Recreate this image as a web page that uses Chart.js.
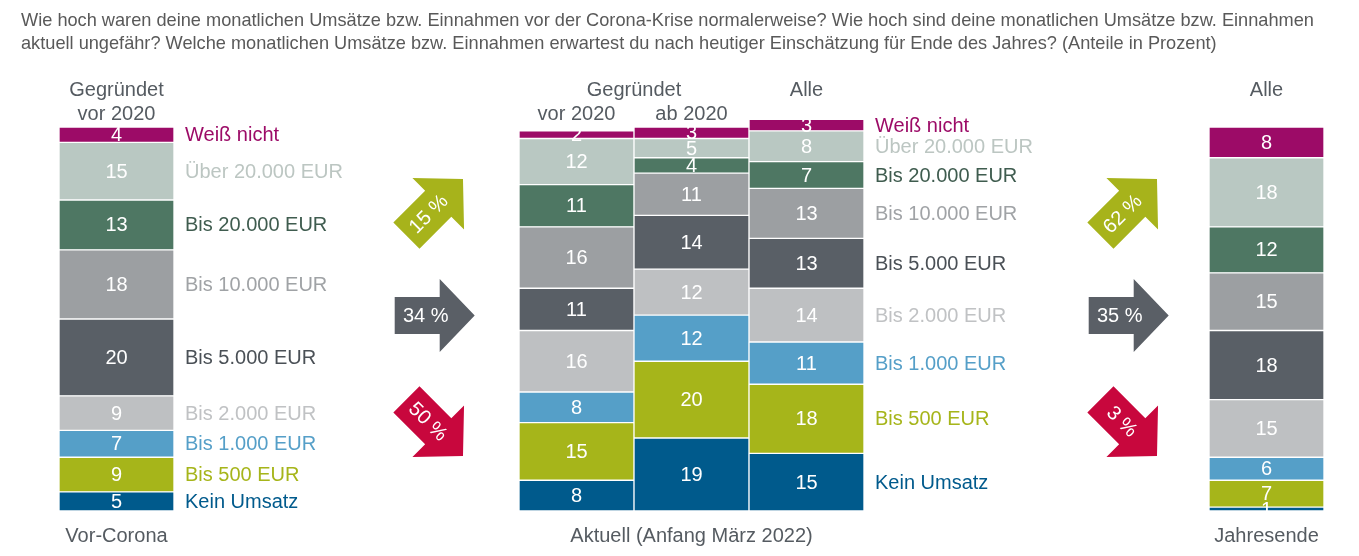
<!DOCTYPE html>
<html lang="de">
<head>
<meta charset="utf-8">
<title>Monatliche Umsätze</title>
<script src="https://cdn.jsdelivr.net/npm/chart.js@4.4.1/dist/chart.umd.min.js"></script>
<style>
  html, body { margin: 0; padding: 0; background: #fff; }
  #wrap { position: relative; width: 1359px; height: 556px; }
</style>
</head>
<body>
<div id="wrap"><canvas id="umsatzChart" width="1359" height="556"></canvas></div>
<script>
// Revenue classes, top of the stack first
const classes = ['Weiß nicht', 'Über 20.000 EUR', 'Bis 20.000 EUR', 'Bis 10.000 EUR', 'Bis 5.000 EUR',
  'Bis 2.000 EUR', 'Bis 1.000 EUR', 'Bis 500 EUR', 'Kein Umsatz'];

// Shares in percent, same order as classes
const vorCorona      = [4, 15, 13, 18, 20, 9, 7, 9, 5];
const aktuellVor2020 = [2, 12, 11, 16, 11, 16, 8, 15, 8];
const aktuellAb2020  = [3, 5, 4, 11, 14, 12, 12, 20, 19];
const aktuellAlle    = [3, 8, 7, 13, 13, 14, 11, 18, 15];
const jahresende     = [8, 18, 12, 15, 18, 15, 6, 7, 1];

// Change shares: up / same / down
const trendJetzt = ['15 %', '34 %', '50 %'];
const trendJahresende = ['62 %', '35 %', '3 %'];

const title = [
  'Wie hoch waren deine monatlichen Umsätze bzw. Einnahmen vor der Corona-Krise normalerweise? Wie hoch sind deine monatlichen Umsätze bzw. Einnahmen',
  'aktuell ungefähr? Welche monatlichen Umsätze bzw. Einnahmen erwartest du nach heutiger Einschätzung für Ende des Jahres? (Anteile in Prozent)'
];

const fillColors = ['#9c0b67', '#b9c8c2', '#4e7763', '#9c9fa2', '#595f66', '#bec0c2', '#559fc8', '#a6b51a', '#005a8c'];
const textColors = ['#9c0b67', '#bcc6c2', '#3f5c4f', '#a0a3a6', '#4a5056', '#c0c2c4', '#559fc8', '#a6b51a', '#005a8c'];

// 11 slots on the x axis, empty ones leave room for arrows and labels
const slots = [vorCorona, null, null, null, aktuellVor2020, aktuellAb2020, aktuellAlle, null, null, null, jahresende];
const legendSlots = [0, 6];

const FONT = '"Liberation Sans", Arial, sans-serif';
const GREY = '#555b61';

// bottom of the stack first
const datasets = classes.map((name, i) => ({
  label: name,
  data: slots.map(s => (s ? s[i] : null)),
  backgroundColor: fillColors[i],
  textColor: textColors[i],
  borderColor: '#ffffff',
  borderWidth: 1,
  borderSkipped: false,
  categoryPercentage: 1,
  barPercentage: 1,
  clip: false
})).reverse();

function drawArrow(ctx, cx, cy, angle, color, text) {
  ctx.save();
  ctx.translate(cx, cy);
  ctx.rotate(angle);
  ctx.fillStyle = color;
  ctx.beginPath();
  ctx.moveTo(-40, -18.5);
  ctx.lineTo(5, -18.5);
  ctx.lineTo(5, -36.5);
  ctx.lineTo(40, 0);
  ctx.lineTo(5, 36.5);
  ctx.lineTo(5, 18.5);
  ctx.lineTo(-40, 18.5);
  ctx.closePath();
  ctx.fill();
  ctx.fillStyle = '#ffffff';
  ctx.font = '20px ' + FONT;
  ctx.textAlign = 'center';
  ctx.textBaseline = 'middle';
  ctx.fillText(text, -9, 1);
  ctx.restore();
}

const decorations = {
  id: 'decorations',
  afterDatasetsDraw(chart) {
    const ctx = chart.ctx;
    const x = chart.scales.x;
    ctx.save();
    ctx.textBaseline = 'middle';

    // values inside the segments, class names next to two bars
    chart.data.datasets.forEach((ds, di) => {
      const meta = chart.getDatasetMeta(di);
      meta.data.forEach((bar, idx) => {
        const v = ds.data[idx];
        if (v == null) return;
        const cy = (bar.y + bar.base) / 2;
        ctx.font = '20px ' + FONT;
        ctx.fillStyle = '#ffffff';
        ctx.textAlign = 'center';
        ctx.fillText(String(v), bar.x, cy + 1);
        if (legendSlots.includes(idx)) {
          ctx.fillStyle = ds.textColor;
          ctx.textAlign = 'left';
          ctx.fillText(ds.label, bar.x + bar.width / 2 + 11, cy + 1);
        }
      });
    });

    // title
    ctx.fillStyle = '#595959';
    ctx.textAlign = 'left';
    ctx.font = '18.2px ' + FONT;
    ctx.fillText(title[0], 21, 21);
    ctx.fillText(title[1], 21, 44);

    // column headers and captions
    ctx.fillStyle = GREY;
    ctx.textAlign = 'center';
    ctx.font = '20px ' + FONT;
    const px = i => x.getPixelForValue(i);
    ctx.fillText('Gegründet', px(0), 90);
    ctx.fillText('vor 2020', px(0), 114);
    ctx.fillText('Gegründet', (px(4) + px(5)) / 2, 90);
    ctx.fillText('vor 2020', px(4), 114);
    ctx.fillText('ab 2020', px(5), 114);
    ctx.fillText('Alle', px(6), 90);
    ctx.fillText('Alle', px(10), 90);
    ctx.fillText('Vor-Corona', px(0), 536);
    ctx.fillText('Aktuell (Anfang März 2022)', px(5), 536);
    ctx.fillText('Jahresende', px(10), 536);
    ctx.restore();

    // trend arrows
    const sets = [[434.7, trendJetzt], [1128.7, trendJahresende]];
    sets.forEach(([ax, labels]) => {
      drawArrow(ctx, ax, 207.3, -Math.PI / 4, '#a7b31b', labels[0]);
      drawArrow(ctx, ax, 315.5, 0, '#5a5f66', labels[1]);
      drawArrow(ctx, ax, 427.7, Math.PI / 4, '#c8073d', labels[2]);
    });
  }
};

new Chart(document.getElementById('umsatzChart'), {
  type: 'bar',
  data: {
    labels: slots.map((s, i) => 'slot' + i),
    datasets: datasets
  },
  options: {
    responsive: false,
    animation: false,
    layout: { padding: { left: 59, right: 35, top: 127, bottom: 45 } },
    plugins: {
      legend: { display: false },
      tooltip: { enabled: false },
      title: { display: false }
    },
    scales: {
      x: { stacked: true, display: false, grid: { display: false } },
      y: { stacked: true, display: false, min: 0, max: 100, grid: { display: false } }
    }
  },
  plugins: [decorations]
});
</script>
</body>
</html>
